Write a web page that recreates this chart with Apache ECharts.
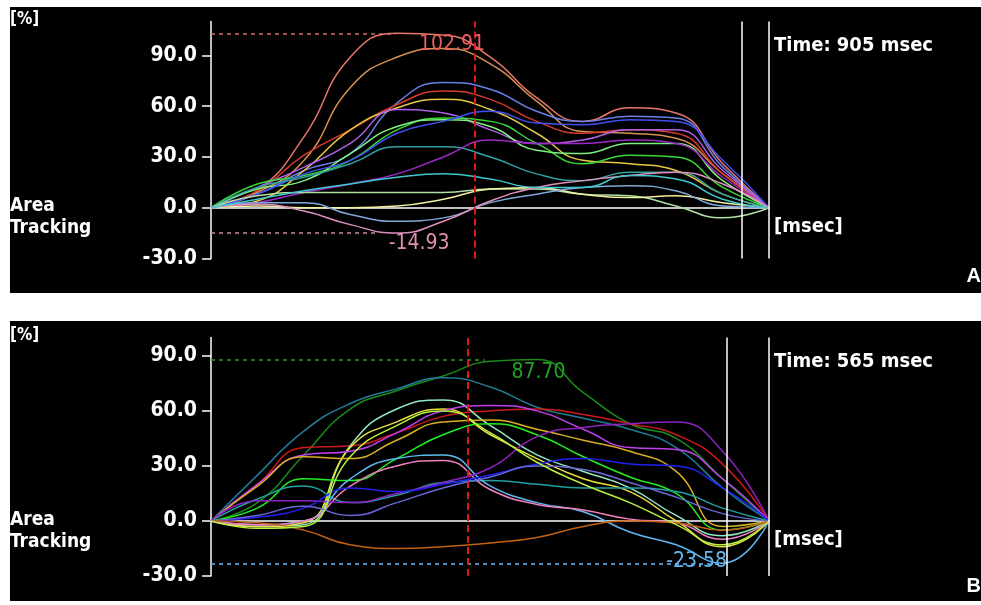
<!DOCTYPE html>
<html><head><meta charset="utf-8">
<script src="https://cdn.jsdelivr.net/npm/echarts@6/dist/echarts.min.js"></script>
<style>
html,body{margin:0;padding:0;background:#fff;}
#wrap{position:relative;width:981px;height:605px;}
.panel{position:absolute;left:10px;width:971px;background:#000;}
#c{position:absolute;left:0;top:0;width:981px;height:605px;}
</style>
</head><body>
<div id="wrap">
<div class="panel" style="top:7px;height:286px;"></div>
<div class="panel" style="top:321px;height:280px;"></div>
<div id="c"></div>
</div>
<script>
// ---- time samples (msec) ----
const timesA = [0, 75, 151, 226, 302, 377, 453, 528, 603, 679, 754, 830, 905];
const timesB = [0, 47, 94, 141, 188, 235, 283, 330, 377, 424, 471, 518, 565];
const yTicks = [-30, 0, 30, 60, 90];

// ---- panel A curves (%) ----
const a1  = [0, 10, 42, 89, 103, 102, 89, 65, 51, 59, 56, 26, 0];
const a2  = [0, 9, 28, 71, 89, 94, 85, 63, 45, 44, 41, 20, 0];
const a3  = [0, 8, 22, 32, 62, 74, 70, 57, 51, 54, 53, 24, 0];
const a4  = [0, 10, 31, 46, 61, 69, 64, 51, 44, 46, 44, 20, 0];
const a5  = [0, 4, 22, 46, 59, 64, 58, 44, 28, 26, 22, 8, 0];
const a6  = [0, 12, 24, 38, 58, 56, 46, 38, 40, 46, 46, 22, 0];
const a7  = [0, 14, 19, 28, 46, 53, 51, 38, 26, 31, 30, 12, 0];
const a8  = [0, 11, 16, 32, 48, 52, 48, 34, 32, 38, 38, 16, 0];
const a9  = [0, 8, 20, 28, 44, 51, 57, 50, 49, 52, 51, 28, 0];
const a10 = [0, 12, 18, 26, 36, 36, 30, 20, 16, 21, 21, 8, 0];
const a11 = [0, 3, 9, 14, 20, 30, 40, 38, 38, 40, 38, 18, 0];
const a12 = [0, 7, 9, 9, 9, 9, 11, 11, 8, 7, 1, -6, 0];
const a13 = [0, 1, 0, 0, 1, 5, 11, 12, 8, 6, 7, 3, 0];
const a14 = [0, 3, 3, -4, -8, -6, 3, 8, 12, 13, 10, 1, 0];
const a15 = [0, 2, -2, -10, -15, -8, 4, 12, 16, 19, 21, 14, 0];
const a16 = [0, 5, 10, 14, 18, 20, 17, 12, 12, 19, 17, 5, 0];
const colorsA = ['#e8786a','#d89050','#6a80e8','#d83a2a','#e8c840','#b060e8','#38d838','#80f080',
                 '#4050f0','#30a0a0','#a028c8','#b0e0a0','#f0f0a0','#80a8d8','#e090c0','#40c8d0'];

// ---- panel B curves (%) ----
const b1  = [0, 10, 36, 61, 71, 79, 87, 88, 70, 53, 45, 23, 0];
const b2  = [0, 25, 49, 64, 72, 78, 73, 62, 56, 50, 40, 18, 0];
const b3  = [0, 20, 40, 41, 48, 57, 60, 61, 58, 53, 47, 31, 0];
const b4  = [0, -3, -2, 41, 61, 66, 52, 36, 27, 18, 3, -8, 0];
const b5  = [0, -3, -1, 40, 54, 61, 47, 34, 23, 16, 0, -14, 0];
const b6  = [0, 20, 36, 38, 48, 60, 63, 60, 50, 40, 39, 23, 0];
const b7  = [0, 19, 35, 34, 44, 54, 55, 50, 44, 38, 27, -3, 0];
const b8  = [0, 7, 23, 22, 34, 47, 53, 47, 35, 24, 15, -5, 0];
const b9  = [0, 12, 19, 10, 14, 21, 22, 20, 18, 18, 16, 7, 0];
const b10 = [0, -2, 0, 23, 34, 36, 19, 10, 5, -6, -13, -23, 0];
const b11 = [0, -2, 0, 19, 30, 33, 17, 9, 6, 1, -1, -10, 0];
const b12 = [0, 11, 11, 10, 15, 21, 29, 46, 51, 53, 54, 38, 0];
const b13 = [0, 2, 7, 18, 16, 20, 25, 31, 34, 31, 30, 18, 0];
const b14 = [0, 3, 8, 3, 10, 18, 24, 30, 28, 21, 13, 4, 0];
const b15 = [0, -1, -5, -13, -15, -14, -12, -9, -3, 0, -1, -5, 0];
const b16 = [0, -4, -3, 35, 52, 60, 48, 32, 20, 10, -2, -13, 0];
const colorsB = ['#1a8a1a','#207a98','#d01818','#90e8c0','#e8e040','#c040f0','#d8b020','#20f020',
                 '#20a0a0','#60b8f0','#f080c0','#9020c0','#2020f0','#6868d8','#c06010','#b8f040'];

// ---- annotations: [time, value] ----
const peakA = [300, 102.91];
const troughA = [271, -14.93];
const redCursorA = 428, whiteCursorA = 860, endA = 905;
const peakB = [277, 87.70];
const troughB = [517, -23.58];
const redCursorB = 260, whiteCursorB = 522, endB = 565;

const curvesA = [a1,a2,a3,a4,a5,a6,a7,a8,a9,a10,a11,a12,a13,a14,a15,a16];
const curvesB = [b1,b2,b3,b4,b5,b6,b7,b8,b9,b10,b11,b12,b13,b14,b15,b16];

const FONT = '"DejaVu Sans Condensed", "DejaVu Sans", sans-serif';

function curve(vals, times, color, idx) {
  return {
    type: 'line', xAxisIndex: idx, yAxisIndex: idx,
    data: times.map((t, i) => [t, vals[i]]),
    smooth: 0.5, showSymbol: false, silent: true, animation: false,
    lineStyle: { width: 1.5, color: color }, itemStyle: { color: color }, z: 3
  };
}

function annot(idx, peak, trough, red, white, end, cMax, cMaxLbl, cMin, cMinLbl, offMax, offMin) {
  return {
    type: 'line', xAxisIndex: idx, yAxisIndex: idx, data: [[0, 0]],
    showSymbol: false, silent: true, animation: false,
    lineStyle: { opacity: 0 }, z: 4,
    markLine: {
      symbol: ['none', 'none'], silent: true, animation: false,
      label: { show: false },
      data: [
        [{ coord: [0, peak[1]], lineStyle: { color: cMax, type: [4, 4], width: 1.6 } }, { coord: peak }],
        [{ coord: [0, trough[1]], lineStyle: { color: cMin, type: [4, 4], width: 1.6 } }, { coord: trough }],
        { xAxis: red, lineStyle: { color: '#e01818', type: [7, 4], width: 2 } },
        { xAxis: white, lineStyle: { color: '#ffffff', type: 'solid', width: 1.5 } },
        { xAxis: end, lineStyle: { color: '#ffffff', type: 'solid', width: 1.5 } }
      ]
    },
    markPoint: {
      symbol: 'circle', symbolSize: 0, silent: true, animation: false,
      data: [
        { coord: peak, value: peak[1], label: { color: cMaxLbl, offset: offMax } },
        { coord: trough, value: trough[1], label: { color: cMinLbl, offset: offMin } }
      ],
      label: {
        show: true, position: 'inside', fontFamily: FONT, fontSize: 21,
        formatter: p => Number(p.value).toFixed(2)
      }
    }
  };
}

function yAxis(idx, max) {
  return {
    gridIndex: idx, type: 'value', min: -30, max: max,
    axisLine: { show: true, onZero: false, lineStyle: { color: '#fff', width: 1.5 } },
    axisTick: { show: true, length: 9, customValues: yTicks, lineStyle: { color: '#fff', width: 1.5 } },
    axisLabel: { show: true, customValues: yTicks, formatter: v => Number(v).toFixed(1),
      color: '#fff', fontFamily: FONT, fontWeight: 'bold', fontSize: 21, margin: 14 },
    splitLine: { show: false }
  };
}
function xAxis(idx, max) {
  return {
    gridIndex: idx, type: 'value', min: 0, max: max,
    axisLine: { show: true, onZero: true, lineStyle: { color: '#fff', width: 1.5 } },
    axisTick: { show: false }, axisLabel: { show: false }, splitLine: { show: false }
  };
}
function txt(x, y, text, size, align, family) {
  return { type: 'text', x: x, y: y, z: 10, silent: true,
    style: { text: text, fill: '#fff', fontSize: size, fontWeight: 'bold',
      fontFamily: family || FONT, align: align || 'left', verticalAlign: 'middle' } };
}

const series = [];
curvesA.forEach((c, i) => series.push(curve(c, timesA, colorsA[i], 0)));
curvesB.forEach((c, i) => series.push(curve(c, timesB, colorsB[i], 1)));
series.push(annot(0, peakA, troughA, redCursorA, whiteCursorA, endA,
  '#d07070', '#e86060', '#c88890', '#e090b0', [56, 11], [41, 11]));
series.push(annot(1, peakB, troughB, redCursorB, whiteCursorB, endB,
  '#20a020', '#20a020', '#60b0f0', '#60b8f0', [54, 12], [-25, -3]));

const chart = echarts.init(document.getElementById('c'), null, { renderer: 'canvas' });
chart.setOption({
  backgroundColor: 'transparent',
  animation: false,
  grid: [
    { left: 211, top: 21.5, width: 558, height: 237 },
    { left: 211, top: 337.5, width: 558, height: 238.5 }
  ],
  xAxis: [xAxis(0, endA), xAxis(1, endB)],
  yAxis: [yAxis(0, 110), yAxis(1, 100)],
  series: series,
  graphic: [
    txt(10, 20, '[%]', 17),
    txt(10, 206, 'Area', 19),
    txt(10, 228, 'Tracking', 19),
    txt(774, 46, 'Time: ' + endA + ' msec', 20),
    txt(774, 227, '[msec]', 20),
    txt(981, 276, 'A', 20, 'right', '"Liberation Sans", Arial, sans-serif'),
    txt(10, 336, '[%]', 17),
    txt(10, 520, 'Area', 19),
    txt(10, 542, 'Tracking', 19),
    txt(774, 362, 'Time: ' + endB + ' msec', 20),
    txt(774, 540, '[msec]', 20),
    txt(981, 586, 'B', 20, 'right', '"Liberation Sans", Arial, sans-serif')
  ]
});
</script>
</body></html>
